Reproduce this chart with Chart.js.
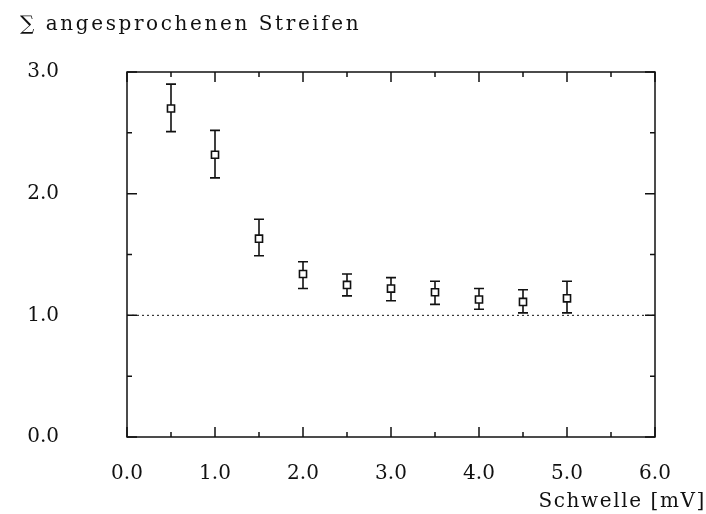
<!DOCTYPE html>
<html>
<head>
<meta charset="utf-8">
<script src="https://cdn.jsdelivr.net/npm/chart.js@4.4.1/dist/chart.umd.min.js"></script>
<style>
  html, body { margin: 0; padding: 0; background: #fff; }
  canvas { display: block; }
</style>
</head>
<body>
<canvas id="grafico" width="706" height="514"></canvas>
<script>
// Werte
const schwelle = [0.5, 1.0, 1.5, 2.0, 2.5, 3.0, 3.5, 4.0, 4.5, 5.0];
const streifen = [2.70, 2.32, 1.63, 1.34, 1.25, 1.22, 1.19, 1.13, 1.11, 1.14];
const fehlerOben = [2.90, 2.52, 1.79, 1.44, 1.34, 1.31, 1.28, 1.22, 1.21, 1.28];
const fehlerUnten = [2.51, 2.13, 1.49, 1.22, 1.16, 1.12, 1.09, 1.05, 1.02, 1.02];
const referenzX = [0, 6];
const referenzY = [1, 1];
const xTickLabels = ['0.0', '1.0', '2.0', '3.0', '4.0', '5.0', '6.0'];
const yTickLabels = ['0.0', '1.0', '2.0', '3.0'];

const yTitel = '\u2211 angesprochenen Streifen';
const xTitel = 'Schwelle [mV]';

const schrift = '"DejaVu Serif", "Liberation Serif", serif';
const farbe = '#111';

// Fehlerbalken (vor den Punkten zeichnen, damit die Quadrate offen bleiben)
const fehlerbalken = {
    id: 'fehlerbalken',
    beforeDatasetsDraw(chart) {
        const ctx = chart.ctx;
        const xs = chart.scales.x, ys = chart.scales.y;
        ctx.save();
        ctx.strokeStyle = farbe;
        ctx.lineWidth = 1.6;
        for (let i = 0; i < schwelle.length; i++) {
            const x = xs.getPixelForValue(schwelle[i]);
            const y1 = ys.getPixelForValue(fehlerOben[i]);
            const y2 = ys.getPixelForValue(fehlerUnten[i]);
            ctx.beginPath();
            ctx.moveTo(x, y1); ctx.lineTo(x, y2);
            ctx.moveTo(x - 5, y1); ctx.lineTo(x + 5, y1);
            ctx.moveTo(x - 5, y2); ctx.lineTo(x + 5, y2);
            ctx.stroke();
        }
        ctx.restore();
    }
};

// Rahmen, innere Striche und Achsentitel
const rahmen = {
    id: 'rahmen',
    afterDraw(chart) {
        const ctx = chart.ctx;
        const a = chart.chartArea;
        const xs = chart.scales.x, ys = chart.scales.y;
        ctx.save();
        ctx.strokeStyle = farbe;
        ctx.lineWidth = 1.5;
        ctx.strokeRect(a.left, a.top, a.right - a.left, a.bottom - a.top);
        ctx.beginPath();
        xs.ticks.forEach(t => {
            const x = xs.getPixelForValue(t.value);
            const len = Number.isInteger(t.value) ? 10 : 5;
            ctx.moveTo(x, a.bottom); ctx.lineTo(x, a.bottom - len);
            ctx.moveTo(x, a.top); ctx.lineTo(x, a.top + len);
        });
        ys.ticks.forEach(t => {
            const y = ys.getPixelForValue(t.value);
            const len = Number.isInteger(t.value) ? 10 : 5;
            ctx.moveTo(a.left, y); ctx.lineTo(a.left + len, y);
            ctx.moveTo(a.right, y); ctx.lineTo(a.right - len, y);
        });
        ctx.stroke();

        ctx.fillStyle = farbe;
        ctx.textBaseline = 'alphabetic';
        ctx.font = '20px ' + schrift;
        ctx.letterSpacing = '2.6px';
        ctx.textAlign = 'left';
        ctx.fillText(yTitel, 20, 30);
        ctx.letterSpacing = '1.6px';
        ctx.textAlign = 'right';
        ctx.fillText(xTitel, 706, 507);
        ctx.restore();
    }
};

new Chart(document.getElementById('grafico'), {
    type: 'scatter',
    data: {
        datasets: [{
            label: 'Referenz',
            type: 'line',
            data: referenzX.map((x, i) => ({ x: x, y: referenzY[i] })),
            borderColor: farbe,
            borderWidth: 1,
            borderDash: [2, 3],
            pointRadius: 0,
            order: 2
        }, {
            label: 'Streifen',
            data: schwelle.map((x, i) => ({ x: x, y: streifen[i] })),
            pointStyle: 'rect',
            pointRadius: 5,
            backgroundColor: '#fff',
            borderColor: farbe,
            borderWidth: 1.6,
            order: 1
        }]
    },
    options: {
        responsive: false,
        animation: false,
        devicePixelRatio: 1,
        layout: { padding: { top: 62, left: 20, right: 51, bottom: 27 } },
        plugins: {
            legend: { display: false },
            tooltip: { enabled: false }
        },
        scales: {
            x: {
                type: 'linear',
                min: 0, max: 6,
                grid: { display: false },
                border: { display: false },
                afterFit: s => { s.height = 50; },
                ticks: {
                    stepSize: 0.5,
                    maxRotation: 0,
                    autoSkip: false,
                    padding: 17,
                    color: farbe,
                    font: { family: schrift, size: 20 },
                    callback: v => Number.isInteger(v) ? xTickLabels[v] : ''
                }
            },
            y: {
                type: 'linear',
                min: 0, max: 3,
                grid: { display: false },
                border: { display: false },
                afterFit: s => { s.width = 107; },
                ticks: {
                    stepSize: 0.5,
                    autoSkip: false,
                    padding: 60,
                    color: farbe,
                    font: { family: schrift, size: 20 },
                    callback: v => Number.isInteger(v) ? yTickLabels[v] : ''
                }
            }
        }
    },
    plugins: [fehlerbalken, rahmen]
});
</script>
</body>
</html>
